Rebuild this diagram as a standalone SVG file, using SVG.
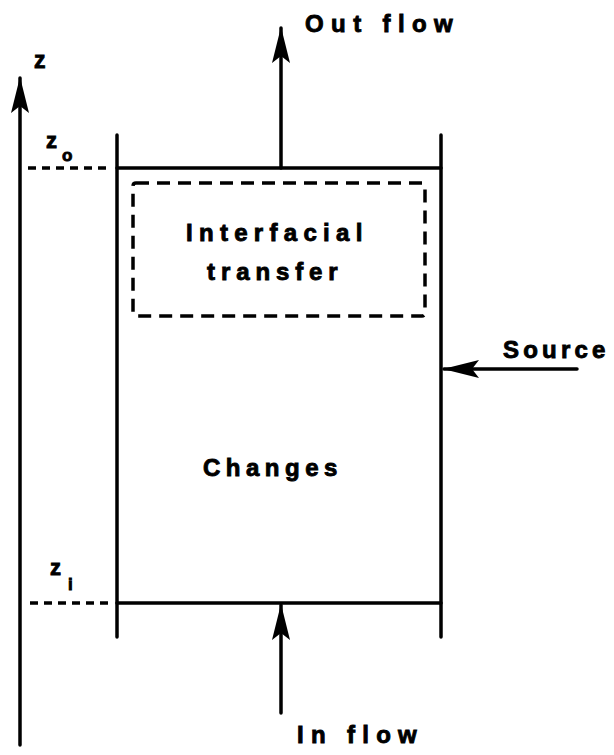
<svg xmlns="http://www.w3.org/2000/svg" width="614" height="755" viewBox="0 0 614 755">
<style>
.ln{stroke:#000;stroke-width:3.5;fill:none;stroke-linecap:round}
.dash{stroke:#000;stroke-width:3.5;fill:none;stroke-dasharray:8 6}
.bdash{stroke:#000;stroke-width:3.5;fill:none;stroke-dasharray:13 8}
.lbl{font-family:"Liberation Sans",Arial,sans-serif;font-weight:bold;font-size:24px;fill:#000;stroke:#000;stroke-width:0.9}
.ax{font-family:"Liberation Sans",Arial,sans-serif;font-weight:bold;fill:#000;stroke:#000;stroke-width:0.9}
</style>
<defs>
<marker id="ah" viewBox="0 0 36 20" refX="35" refY="10" markerWidth="36" markerHeight="20" markerUnits="userSpaceOnUse" orient="auto">
<path d="M0,1 L36,10 L0,19 L7,10 Z" fill="#000"/>
</marker>
</defs>
<rect width="614" height="755" fill="#fff"/>
<g id="axis">
<line class="ln" x1="20" y1="745" x2="20" y2="78" marker-end="url(#ah)"/>
<text class="ax" x="34" y="68" font-size="23">z</text>
</g>
<g id="z_o">
<text class="ax" x="46" y="148" font-size="22">z</text>
<text class="ax" x="62" y="161" font-size="17">o</text>
<line class="dash" x1="28" y1="168" x2="112" y2="168"/>
</g>
<g id="z_i">
<text class="ax" x="50" y="575" font-size="22">z</text>
<text class="ax" x="68" y="590" font-size="17">i</text>
<line class="dash" x1="30" y1="603" x2="112" y2="603"/>
</g>
<g id="control_volume">
<line class="ln" x1="117" y1="135" x2="117" y2="637"/>
<line class="ln" x1="441" y1="135" x2="441" y2="637"/>
<line class="ln" x1="117" y1="168" x2="441" y2="168"/>
<line class="ln" x1="117" y1="603" x2="441" y2="603"/>
<text class="lbl" x="203" y="476" letter-spacing="5.5">Changes</text>
</g>
<g id="interfacial_transfer">
<rect class="bdash" x="133" y="183" width="292" height="133" rx="3"/>
<text class="lbl" x="186" y="241" letter-spacing="6.3">Interfacial</text>
<text class="lbl" x="207" y="280" letter-spacing="5.9">transfer</text>
</g>
<g id="connectors">
<line class="ln" x1="281" y1="168" x2="281" y2="28" marker-end="url(#ah)"/>
<line class="ln" x1="281" y1="713" x2="281" y2="605" marker-end="url(#ah)"/>
<line class="ln" x1="577" y1="369" x2="444" y2="369" marker-end="url(#ah)"/>
</g>
<g id="labels">
<text class="lbl" x="305" y="32" letter-spacing="7.4">Out flow</text>
<text class="lbl" x="503" y="358" letter-spacing="4.2">Source</text>
<text class="lbl" x="297" y="743" letter-spacing="7.3">In flow</text>
</g>
</svg>
